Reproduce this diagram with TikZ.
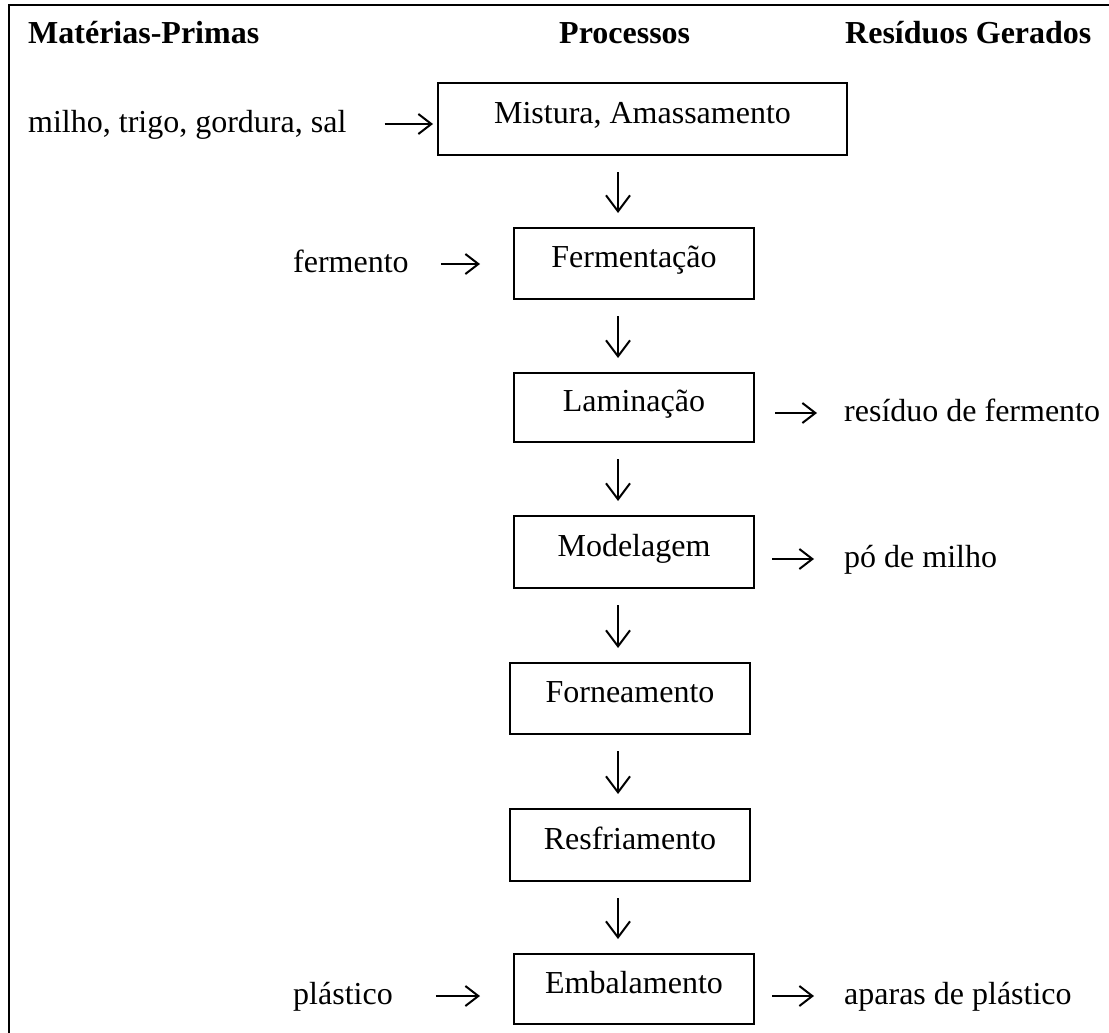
\documentclass[tikz,border=0pt]{standalone}
\usepackage{fontspec}
\setmainfont{Liberation Serif}
\usetikzlibrary{arrows.meta}
\begin{document}
\begin{tikzpicture}[x=1pt,y=-1pt,
  every node/.style={font=\fontsize{32}{38}\selectfont, inner sep=0pt},
  stepbox/.style={draw, line width=2pt, minimum width=240pt, minimum height=71pt,
    anchor=north west, text height=23pt, text depth=15pt},
  head/.style={font=\bfseries\fontsize{32}{38}\selectfont, anchor=west,
    text height=24pt, text depth=6pt},
  side/.style={anchor=west, text height=24pt, text depth=8pt},
  flow/.style={line width=2pt, -{Straight Barb[length=13pt,width=20pt]}},
  down/.style={line width=2pt, -{Straight Barb[length=16pt,width=24pt]},
    shorten <=16pt, shorten >=14pt}
]
\useasboundingbox (0,0) rectangle (1109,1033);

% open frame: top and left rules
\draw[line width=2pt] (9,1033) -- (9,5) -- (1109,5);

% column headings
\node[head] (hmp) at (28,35)  {Matérias-Primas};
\node[head] (hpr) at (559,35) {Processos};
\node[head] (hrg) at (845,35) {Resíduos Gerados};

% process steps
\node[stepbox, minimum width=409pt, minimum height=72pt] (mix) at (437,82) {Mistura, Amassamento};
\node[stepbox] (fer) at (513,227) {Fermentação};
\node[stepbox, minimum height=69pt] (lam) at (513,372) {Laminação};
\node[stepbox, minimum height=72pt] (mod) at (513,515) {Modelagem};
\node[stepbox] (for) at (509,662) {Forneamento};
\node[stepbox, minimum height=72pt] (res) at (509,808) {Resfriamento};
\node[stepbox, minimum height=70pt] (emb) at (513,953) {Embalamento};

% raw materials
\node[side] (inA) at (28,124)  {milho, trigo, gordura, sal};
\node[side] (inB) at (293,264) {fermento};
\node[side] (inC) at (293,996) {plástico};

% generated residues
\node[side] (outA) at (844,413) {resíduo de fermento};
\node[side] (outB) at (844,559) {pó de milho};
\node[side] (outC) at (844,996) {aparas de plástico};

% inputs
\draw[flow, shorten <=38pt, shorten >=4pt]  (inA.east) -- (inA.east -| mix.west);
\draw[flow, shorten <=32pt, shorten >=33pt] (inB.east) -- (inB.east -| fer.west);
\draw[flow, shorten <=43pt, shorten >=33pt] (inC.east) -- (inC.east -| emb.west);

% outputs
\draw[flow, shorten <=20pt, shorten >=27pt] (lam.east |- outA.west) -- (outA.west);
\draw[flow, shorten <=17pt, shorten >=30pt] (mod.east |- outB.west) -- (outB.west);
\draw[flow, shorten <=17pt, shorten >=30pt] (emb.east |- outC.west) -- (outC.west);

% main flow
\coordinate (spine) at (618,0);
\draw[down] (mix.south -| spine) -- (fer.north -| spine);
\draw[down] (fer.south -| spine) -- (lam.north -| spine);
\draw[down] (lam.south -| spine) -- (mod.north -| spine);
\draw[down] (mod.south -| spine) -- (for.north -| spine);
\draw[down] (for.south -| spine) -- (res.north -| spine);
\draw[down] (res.south -| spine) -- (emb.north -| spine);
\end{tikzpicture}
\end{document}
